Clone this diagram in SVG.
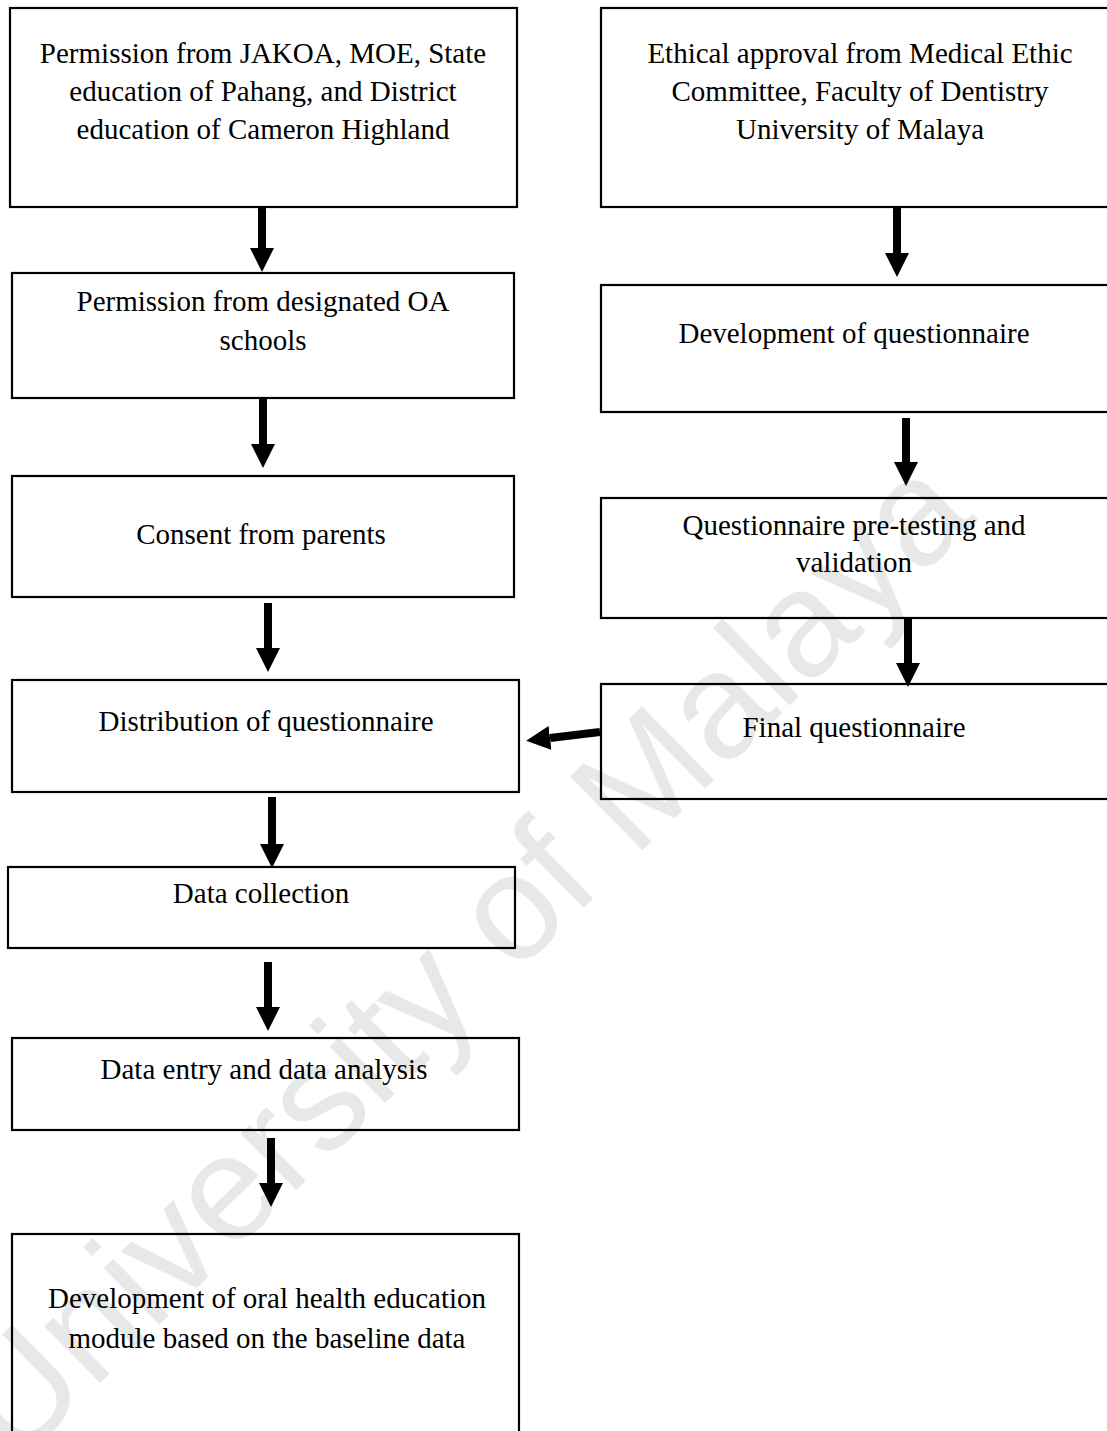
<svg xmlns="http://www.w3.org/2000/svg" width="1107" height="1431" viewBox="0 0 1107 1431">
<defs>
<style>
.box{fill:none;stroke:#000;stroke-width:2.2}
.t{font-family:"Liberation Serif","Times New Roman",serif;font-size:29px;fill:#000;text-anchor:middle}
.c{stroke:#000;stroke-width:8;fill:none}
.wm{font-family:"Liberation Sans",Arial,sans-serif;font-size:150px;fill:#e8e8e8;text-anchor:middle}
</style>
<marker id="ah" markerUnits="userSpaceOnUse" markerWidth="24" markerHeight="24" viewBox="0 0 24 24" refX="0" refY="12" orient="auto">
<path d="M0,0 L24,12 L0,24 Z" fill="#000"/>
</marker>
</defs>
<rect width="1107" height="1431" fill="#fff"/>
<text class="wm" transform="translate(497,993) rotate(-44.5)">University of Malaya</text>

<g id="n1"><rect class="box" x="10" y="8" width="507" height="199"/>
<text class="t" x="263" y="63">Permission from JAKOA, MOE, State</text>
<text class="t" x="263" y="101">education of Pahang, and District</text>
<text class="t" x="263" y="139">education of Cameron Highland</text></g>

<g id="n2"><rect class="box" x="601" y="8" width="518" height="199"/>
<text class="t" x="860" y="63">Ethical approval from Medical Ethic</text>
<text class="t" x="860" y="101">Committee, Faculty of Dentistry</text>
<text class="t" x="860" y="139">University of Malaya</text></g>

<g id="n3"><rect class="box" x="12" y="273" width="502" height="125"/>
<text class="t" x="263" y="311">Permission from designated OA</text>
<text class="t" x="263" y="350">schools</text></g>

<g id="n4"><rect class="box" x="601" y="285" width="518" height="127"/>
<text class="t" x="854" y="343">Development of questionnaire</text></g>

<g id="n5"><rect class="box" x="12" y="476" width="502" height="121"/>
<text class="t" x="261" y="544">Consent from parents</text></g>

<g id="n6"><rect class="box" x="601" y="498" width="518" height="120"/>
<text class="t" x="854" y="535">Questionnaire pre-testing and</text>
<text class="t" x="854" y="572">validation</text></g>

<g id="n7"><rect class="box" x="12" y="680" width="507" height="112"/>
<text class="t" x="266" y="731">Distribution of questionnaire</text></g>

<g id="n8"><rect class="box" x="601" y="684" width="518" height="115"/>
<text class="t" x="854" y="737">Final questionnaire</text></g>

<g id="n9"><rect class="box" x="8" y="867" width="507" height="81"/>
<text class="t" x="261" y="903">Data collection</text></g>

<g id="n10"><rect class="box" x="12" y="1038" width="507" height="92"/>
<text class="t" x="264" y="1079">Data entry and data analysis</text></g>

<g id="n11"><rect class="box" x="12" y="1234" width="507" height="220"/>
<text class="t" x="267" y="1308">Development of oral health education</text>
<text class="t" x="267" y="1348">module based on the baseline data</text></g>

<g id="connectors">
<line class="c" x1="262" y1="207" x2="262" y2="248" marker-end="url(#ah)"/>
<line class="c" x1="897" y1="207" x2="897" y2="253" marker-end="url(#ah)"/>
<line class="c" x1="263" y1="399" x2="263" y2="444" marker-end="url(#ah)"/>
<line class="c" x1="906" y1="418" x2="906" y2="462" marker-end="url(#ah)"/>
<line class="c" x1="268" y1="603" x2="268" y2="648" marker-end="url(#ah)"/>
<line class="c" x1="908" y1="618" x2="908" y2="663" marker-end="url(#ah)"/>
<line class="c" x1="600" y1="732" x2="550" y2="738" marker-end="url(#ah)"/>
<line class="c" x1="272" y1="797" x2="272" y2="844" marker-end="url(#ah)"/>
<line class="c" x1="268" y1="962" x2="268" y2="1007" marker-end="url(#ah)"/>
<line class="c" x1="271" y1="1138" x2="271" y2="1183" marker-end="url(#ah)"/>
</g>
</svg>
